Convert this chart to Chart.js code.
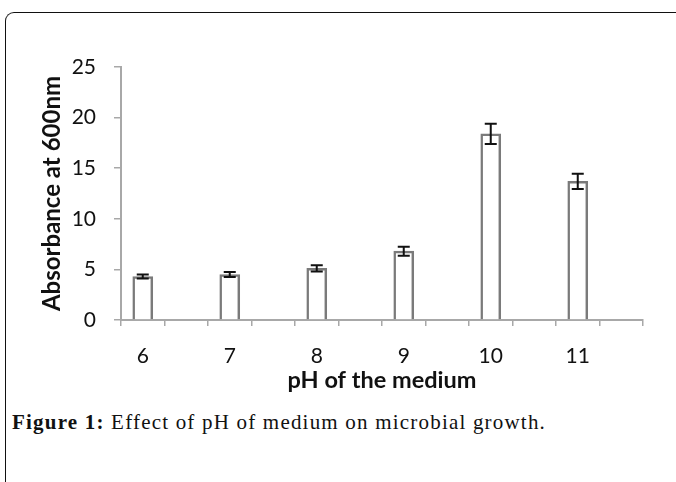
<!DOCTYPE html>
<html>
<head>
<meta charset="utf-8">
<script src="https://cdn.jsdelivr.net/npm/chart.js@4.4.1/dist/chart.umd.min.js"></script>
<style>
  html, body { margin: 0; padding: 0; background: #fff; }
  body { width: 676px; height: 482px; position: relative; overflow: hidden; }
  #frame {
    position: absolute; left: 5px; top: 12px; width: 720px; height: 520px;
    border-left: 1.5px solid #111; border-top: 1.5px solid #111;
    border-top-left-radius: 9px;
  }
  #wrap { position: absolute; left: 0; top: 0; width: 676px; height: 400px; }
  #caption {
    position: absolute; left: 12px; top: 410px;
    font-family: "Liberation Serif", serif; font-size: 21px; color: #111;
    letter-spacing: 1.2px; white-space: nowrap;
  }
  #caption b { font-weight: bold; }
</style>
</head>
<body>
<div id="frame"></div>
<div id="wrap"><canvas id="phChart" width="676" height="400"></canvas></div>
<div id="caption"><b>Figure 1:</b> Effect of pH of medium on microbial growth.</div>
<script>
// pH values and absorbance readings
const phLabels = ["6", "7", "8", "9", "10", "11"];
const absorbance = [4.3, 4.5, 5.1, 6.8, 18.4, 13.7];
const errors = [0.2, 0.25, 0.3, 0.45, 1.0, 0.75];
const yTicks = [0, 5, 10, 15, 20, 25];

// each pH gets two slots on the axis, bar sits in the first one
const slotLabels = [];
const slotValues = [];
const slotErrors = [];
phLabels.forEach((lab, i) => {
    slotLabels.push(lab, "");
    slotValues.push(absorbance[i], null);
    slotErrors.push(errors[i], null);
});

const errorBars = {
    id: "errorBars",
    afterDatasetsDraw(chart) {
        const ctx = chart.ctx;
        const meta = chart.getDatasetMeta(0);
        const y = chart.scales.y;
        ctx.save();
        ctx.strokeStyle = "#111";
        ctx.lineWidth = 2;
        meta.data.forEach((bar, i) => {
            const v = slotValues[i];
            const e = slotErrors[i];
            if (v == null) return;
            const top = y.getPixelForValue(v + e);
            const bot = y.getPixelForValue(v - e);
            ctx.beginPath();
            ctx.moveTo(bar.x, top);
            ctx.lineTo(bar.x, bot);
            ctx.moveTo(bar.x - 6, top);
            ctx.lineTo(bar.x + 6, top);
            ctx.moveTo(bar.x - 6, bot);
            ctx.lineTo(bar.x + 6, bot);
            ctx.stroke();
        });
        ctx.restore();
    }
};

const ctx = document.getElementById("phChart").getContext("2d");
new Chart(ctx, {
    type: "bar",
    data: {
        labels: slotLabels,
        datasets: [{
            data: slotValues,
            backgroundColor: "#ffffff",
            borderColor: "#7a7a7a",
            borderWidth: 2.5,
            barThickness: 20,
            skipNull: true,
        }],
    },
    options: {
        responsive: false,
        animation: false,
        events: [],
        plugins: {
            legend: { display: false },
            tooltip: { enabled: false },
        },
        layout: {
            padding: { top: 67, right: 33, bottom: 0, left: 0 },
        },
        scales: {
            x: {
                afterFit: (s) => { s.height = 80; },
                grid: {
                    drawOnChartArea: false,
                    drawTicks: true,
                    tickLength: 6,
                    color: "#a8a8a8",
                    lineWidth: 1.5,
                },
                border: { color: "#a8a8a8", width: 2 },
                ticks: {
                    autoSkip: false,
                    maxRotation: 0,
                    padding: 18,
                    color: "#111",
                    font: { family: "Lato", size: 21 },
                },
                title: {
                    display: true,
                    text: "pH of the medium",
                    color: "#111",
                    font: { family: "Lato", size: 23.5, weight: "bold" },
                    padding: { top: 0, bottom: 5 },
                },
            },
            y: {
                min: 0,
                max: 25,
                afterFit: (s) => { s.width = 121; },
                afterBuildTicks: (s) => { s.ticks = yTicks.map(v => ({ value: v })); },
                grid: {
                    drawOnChartArea: false,
                    drawTicks: true,
                    tickLength: 7,
                    color: "#a8a8a8",
                    lineWidth: 1.5,
                },
                border: { color: "#a8a8a8", width: 2 },
                ticks: {
                    padding: 18,
                    color: "#111",
                    font: { family: "Lato", size: 21 },
                },
                title: {
                    display: true,
                    text: "Absorbance at 600nm",
                    color: "#111",
                    font: { family: "Lato", size: 24, weight: "bold" },
                    padding: { top: 38, bottom: 0 },
                },
            },
        },
    },
    plugins: [errorBars],
});
</script>
</body>
</html>
